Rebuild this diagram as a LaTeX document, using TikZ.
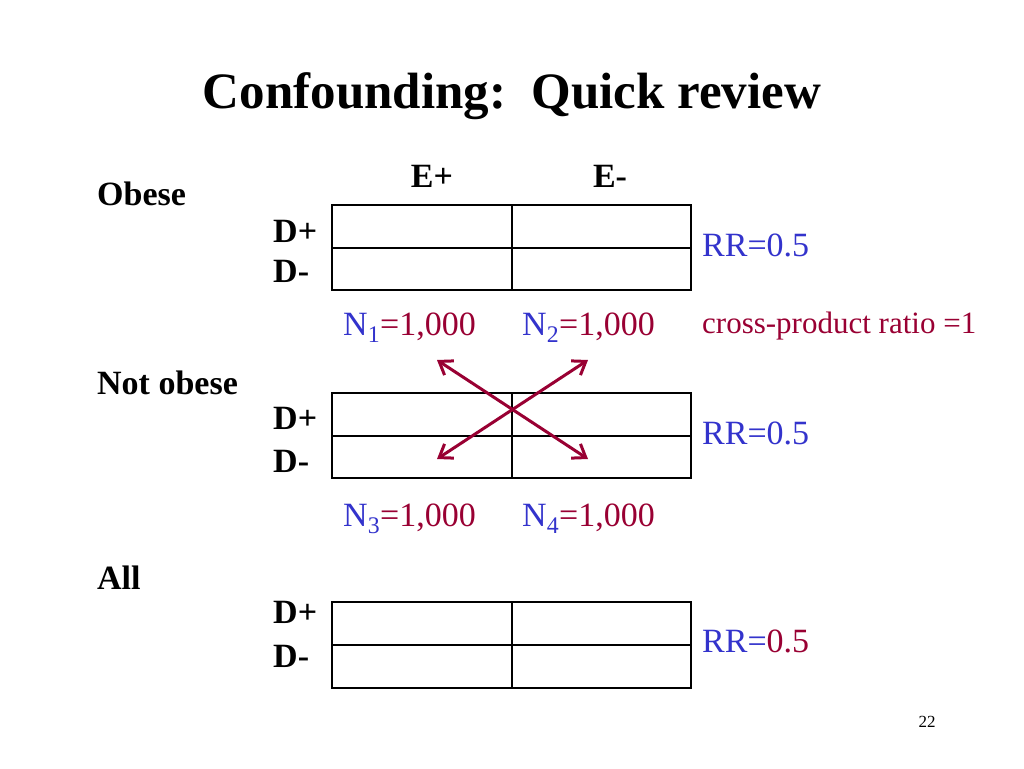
\documentclass[tikz,border=0pt]{standalone}
\usepackage{fontspec}
\setmainfont{Liberation Serif}
\usetikzlibrary{arrows.meta}
\definecolor{slideblue}{RGB}{51,51,204}
\definecolor{slidered}{RGB}{153,0,51}
\newcommand{\pxsize}[1]{\fontsize{#1}{#1}\selectfont}

\tikzset{
  cell/.style={shape=rectangle, draw, line width=2pt, minimum width=179.5pt, minimum height=42.5pt, inner sep=0pt},
  lab/.style={anchor=base west, inner sep=0pt, font=\pxsize{34}\bfseries},
  txt/.style={anchor=base west, inner sep=0pt, font=\pxsize{34}},
  crossarrow/.style={{Straight Barb[length=12pt,width=17pt,line width=3pt]}-{Straight Barb[length=12pt,width=17pt,line width=3pt]}, line width=3pt, slidered}
}

\begin{document}
\begin{tikzpicture}[x=1pt,y=-1pt]
      \fill[white] (0,0) rectangle (1024,768);
      \useasboundingbox (0,0) rectangle (1024,768);

      \node[anchor=base, inner sep=0pt, font=\pxsize{51}\bfseries] (title) at (512,108) {Confounding:\ \ Quick review};

      % column heads
      \node[lab, anchor=base] (eplus) at (432,187) {E+};
      \node[lab, anchor=base] (eminus) at (610,187) {E-};

      % obese
      \node[lab] (obese) at (97,205) {Obese};
      \node[lab] (dp1) at (273,242) {D+};
      \node[lab] (dm1) at (273,282) {D-};
      \node[cell] (c11) at (422,226.5) {};
      \node[cell] (c12) at (601.5,226.5) {};
      \node[cell] (c13) at (422,269) {};
      \node[cell] (c14) at (601.5,269) {};
      \node[txt, slideblue] (rr1) at (702,256) {RR=0.5};
      \node[txt] (n1) at (343,335) {{\color{slideblue}N\textsubscript{1}}{\color{slidered}=1,000}};
      \node[txt] (n2) at (522,335) {{\color{slideblue}N\textsubscript{2}}{\color{slidered}=1,000}};
      \node[txt, slidered, font=\pxsize{31}] (cpr) at (702,333) {cross-product ratio =1};

      % not obese
      \node[lab] (notobese) at (97,394) {Not obese};
      \node[lab] (dp2) at (273,429) {D+};
      \node[lab] (dm2) at (273,472) {D-};
      \node[cell] (c21) at (422,414.5) {};
      \node[cell] (c22) at (601.5,414.5) {};
      \node[cell] (c23) at (422,457) {};
      \node[cell] (c24) at (601.5,457) {};
      \node[txt, slideblue] (rr2) at (702,444) {RR=0.5};
      \node[txt] (n3) at (343,526) {{\color{slideblue}N\textsubscript{3}}{\color{slidered}=1,000}};
      \node[txt] (n4) at (522,526) {{\color{slideblue}N\textsubscript{4}}{\color{slidered}=1,000}};

      % all
      \node[lab] (all) at (97,589) {All};
      \node[lab] (dp3) at (273,623) {D+};
      \node[lab] (dm3) at (273,667) {D-};
      \node[cell] (c31) at (422,623.5) {};
      \node[cell] (c32) at (601.5,623.5) {};
      \node[cell] (c33) at (422,666.5) {};
      \node[cell] (c34) at (601.5,666.5) {};
      \node[txt] (rr3) at (702,652) {{\color{slideblue}RR=}{\color{slidered}0.5}};

      \node[anchor=base, inner sep=0pt, font=\pxsize{17}] (page) at (927,727) {22};

      % cross arrows
      \coordinate (ul) at (437,360);
      \coordinate (lr) at (588,459);
      \coordinate (ll) at (437,459);
      \coordinate (ur) at (588,360);
      \draw[crossarrow] (ul) -- (lr);
      \draw[crossarrow] (ll) -- (ur);
    \end{tikzpicture}
\end{document}
